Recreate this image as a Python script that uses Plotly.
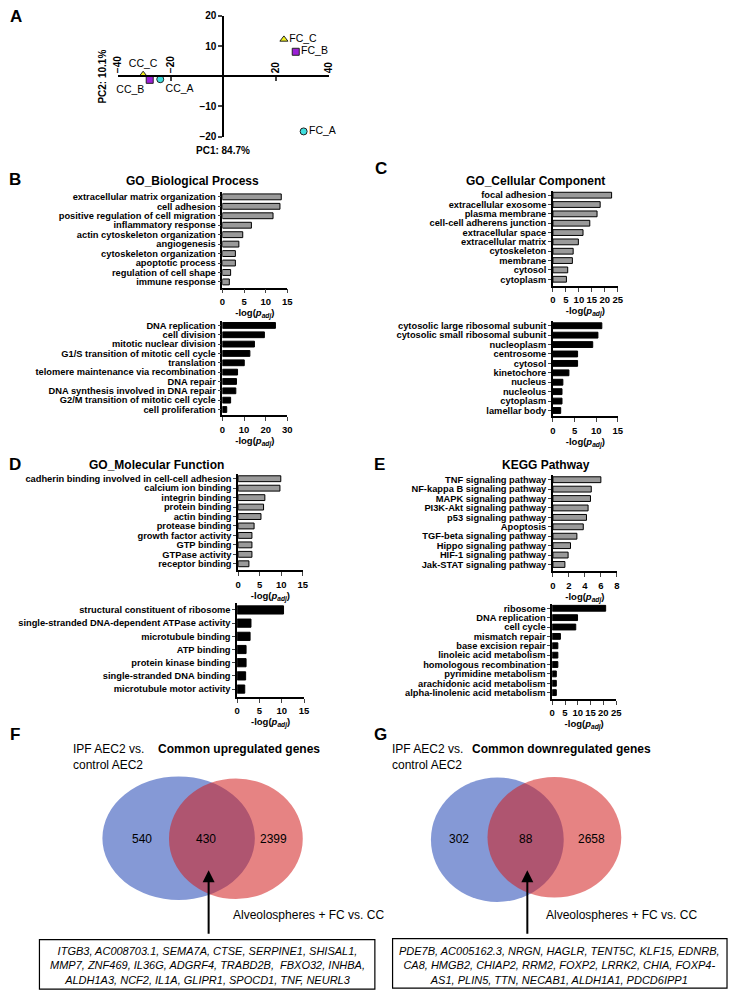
import plotly.graph_objects as go

W, H = 734, 998
FONT = "Liberation Sans, Arial, sans-serif"


def fx(px):
    return px / W


def fy(py):
    return 1 - py / H


# ---- A: PCA ----
samples = ["CC_A", "CC_B", "CC_C", "FC_A", "FC_B", "FC_C"]
pc1 = [-24, -28, -30.5, 30.5, 27.5, 23]
pc2 = [-1, -1.2, 0.5, -18.3, 8.1, 12.2]
pc1_label = "PC1: 84.7%"
pc2_label = "PC2: 10.1%"

# ---- B: GO Biological Process ----
bp_up_terms = ["extracellular matrix organization", "cell adhesion",
               "positive regulation of cell migration", "inflammatory response",
               "actin cytoskeleton organization", "angiogenesis",
               "cytoskeleton organization", "apoptotic process",
               "regulation of cell shape", "immune response"]
bp_up_vals = [13.6, 13.3, 11.7, 6.7, 4.7, 3.8, 3.0, 3.0, 1.9, 1.6]
bp_down_terms = ["DNA replication", "cell division", "mitotic nuclear division",
                 "G1/S transition of mitotic cell cycle", "translation",
                 "telomere maintenance via recombination", "DNA repair",
                 "DNA synthesis involved in DNA repair",
                 "G2/M transition of mitotic cell cycle", "cell proliferation"]
bp_down_vals = [24.5, 19.4, 14.8, 12.7, 10.1, 7.0, 6.5, 6.2, 3.8, 2.0]

# ---- C: GO Cellular Component ----
cc_up_terms = ["focal adhesion", "extracellular exosome", "plasma membrane",
               "cell-cell adherens junction", "extracellular space",
               "extracellular matrix", "cytoskeleton", "membrane", "cytosol",
               "cytoplasm"]
cc_up_vals = [22.6, 18.2, 17.0, 14.2, 11.6, 9.8, 7.8, 7.5, 5.7, 5.2]
cc_down_terms = ["cytosolic large ribosomal subunit",
                 "cytosolic small ribosomal subunit", "nucleoplasm", "centrosome",
                 "cytosol", "kinetochore", "nucleus", "nucleolus", "cytoplasm",
                 "lamellar body"]
cc_down_vals = [11.3, 10.4, 9.2, 5.7, 5.7, 3.7, 2.3, 2.1, 2.1, 1.8]

# ---- D: GO Molecular Function ----
mf_up_terms = ["cadherin binding involved in cell-cell adhesion",
               "calcium ion binding", "integrin binding", "protein binding",
               "actin binding", "protease binding", "growth factor activity",
               "GTP binding", "GTPase activity", "receptor binding"]
mf_up_vals = [9.9, 9.7, 6.2, 5.9, 5.3, 3.7, 3.2, 3.2, 3.2, 2.5]
mf_down_terms = ["structural constituent of ribosome",
                 "single-stranded DNA-dependent ATPase activity",
                 "microtubule binding", "ATP binding", "protein kinase binding",
                 "single-stranded DNA binding", "microtubule motor activity"]
mf_down_vals = [10.4, 3.1, 2.9, 2.0, 2.0, 1.9, 1.7]

# ---- E: KEGG ----
kegg_up_terms = ["TNF signaling pathway", "NF-kappa B signaling pathway",
                 "MAPK signaling pathway", "PI3K-Akt signaling pathway",
                 "p53 signaling pathway", "Apoptosis",
                 "TGF-beta signaling pathway", "Hippo signaling pathway",
                 "HIF-1 signaling pathway", "Jak-STAT signaling pathway"]
kegg_up_vals = [6.0, 4.8, 4.7, 4.4, 4.2, 3.8, 3.0, 2.2, 1.9, 1.5]
kegg_down_terms = ["ribosome", "DNA replication", "cell cycle", "mismatch repair",
                   "base excision repair", "linoleic acid metabolism",
                   "homologous recombination", "pyrimidine metabolism",
                   "arachidonic acid metabolism", "alpha-linolenic acid metabolism"]
kegg_down_vals = [20.9, 9.9, 9.2, 3.2, 2.2, 2.2, 2.2, 1.6, 1.6, 1.6]

# ---- F/G: Venn ----
up_counts = [540, 430, 2399]
down_counts = [302, 88, 2658]
up_genes = ["ITGB3, AC008703.1, SEMA7A, CTSE, SERPINE1, SHISAL1,",
            "MMP7, ZNF469, IL36G, ADGRF4, TRABD2B,  FBXO32, INHBA,",
            "ALDH1A3, NCF2, IL1A, GLIPR1, SPOCD1, TNF, NEURL3"]
down_genes = ["PDE7B, AC005162.3, NRGN, HAGLR, TENT5C, KLF15, EDNRB,",
              "CA8, HMGB2, CHIAP2, RRM2, FOXP2, LRRK2, CHIA, FOXP4-",
              "AS1, PLIN5, TTN, NECAB1, ALDH1A1, PDCD6IPP1"]

GRAY = "#9a9a9a"
XTITLE = "-log(<i>p</i><sub><i>adj</i></sub>)"

fig = go.Figure()
layout = dict(width=W, height=H, margin=dict(l=0, r=0, t=0, b=0),
              paper_bgcolor="white", plot_bgcolor="white",
              font=dict(family=FONT, color="black"), showlegend=False)
annotations = []
shapes = []


def note(x, y, text, **kw):
    d = dict(x=fx(x), y=fy(y), xref="paper", yref="paper", text=text,
             showarrow=False, xanchor="center", yanchor="middle")
    d.update(kw)
    annotations.append(d)


# PCA
sym = {"A": "circle", "B": "square", "C": "triangle-up"}
col = {"A": "#3fdede", "B": "#9b1fd6", "C": "#f2f21a"}
tpos = {"CC_A": "bottom right", "CC_B": "bottom left", "CC_C": "top center",
        "FC_A": "middle right", "FC_B": "middle right", "FC_C": "middle right"}
fig.add_trace(go.Scatter(
    x=pc1, y=pc2, mode="markers+text", text=samples,
    textposition=[tpos[s] for s in samples],
    textfont=dict(size=10.5, family=FONT),
    marker=dict(symbol=[sym[s[-1]] for s in samples],
                color=[col[s[-1]] for s in samples], size=7,
                line=dict(color="#222", width=1)),
    xaxis="x", yaxis="y", cliponaxis=False))
layout["xaxis"] = dict(domain=[fx(114), fx(328)], range=[-40, 40], anchor="free",
                       position=fy(72), side="top", tickvals=[-40, -20, 20, 40],
                       tickangle=-90, ticks="inside", ticklen=4, tickwidth=1.5,
                       showline=True, linewidth=2, linecolor="black",
                       showgrid=False, zeroline=True, zerolinewidth=2,
                       zerolinecolor="black",
                       tickfont=dict(size=10, weight="bold"))
layout["yaxis"] = dict(domain=[fy(133), fy(11)], range=[-20, 20], anchor="free",
                       position=fx(221), tickvals=[-20, -10, 10, 20],
                       ticks="outside", ticklen=4, tickwidth=1.5,
                       showline=True, linewidth=2, linecolor="black",
                       showgrid=False, zeroline=True, zerolinewidth=2,
                       zerolinecolor="black",
                       tickfont=dict(size=10, weight="bold"))
note(98, 72, pc2_label, textangle=-90, font=dict(size=10, weight="bold"))
note(221, 147, pc1_label, font=dict(size=10, weight="bold"))


def bar_panel(i, terms, vals, color, x0, x1, xmax, dtick, first, last, axis_y):
    n = len(terms)
    s = (last - first) / (n - 1)
    top = first - 0.5 * s
    k = (axis_y - last) / s
    xa, ya = "x%d" % i, "y%d" % i
    fig.add_trace(go.Bar(x=vals, y=list(range(n)), orientation="h",
                         marker=dict(color=color, line=dict(color="black", width=1)),
                         width=0.62, xaxis=xa, yaxis=ya))
    layout["xaxis%d" % i] = dict(
        domain=[fx(x0), fx(x1)], range=[0, xmax], dtick=dtick, tick0=0,
        anchor=ya, ticks="outside", ticklen=4, tickwidth=1.2, tickangle=0,
        showline=True, linewidth=1.5, linecolor="black", showgrid=False,
        zeroline=False, tickfont=dict(size=9.5, weight="bold"),
        title=dict(text=XTITLE, font=dict(size=9.5, weight="bold"), standoff=2))
    layout["yaxis%d" % i] = dict(
        domain=[fy(axis_y), fy(top)], range=[n - 1 + k, -0.5], anchor=xa,
        tickvals=list(range(n)), ticktext=terms, ticks="outside", ticklen=3,
        tickwidth=1.2, showline=True, linewidth=1.5, linecolor="black",
        showgrid=False, zeroline=False, tickfont=dict(size=9.3, weight="bold"))


bar_panel(2, bp_up_terms, bp_up_vals, GRAY, 220, 286, 15, 5, 194, 280, 285.7)
bar_panel(3, bp_down_terms, bp_down_vals, "black", 220, 286, 30, 10, 324, 409, 415)
bar_panel(4, cc_up_terms, cc_up_vals, GRAY, 556, 622, 25, 5, 192.3, 277.3, 284)
bar_panel(5, cc_down_terms, cc_down_vals, "black", 556, 622, 15, 5, 324.3, 410, 416)
bar_panel(6, mf_up_terms, mf_up_vals, GRAY, 236, 301.7, 15, 5, 479, 565, 571.7)
bar_panel(7, mf_down_terms, mf_down_vals, "black", 235, 303, 15, 5, 611.7, 691.7, 700)
bar_panel(8, kegg_up_terms, kegg_up_vals, GRAY, 556, 621, 8, 2, 480, 565.7, 572.7)
bar_panel(9, kegg_down_terms, kegg_down_vals, "black", 555.3, 620.3, 25, 5, 610, 695.3, 701.7)

# panel letters and titles
for letter, x, y in [("A", 10, 12), ("B", 9, 176), ("C", 381, 165), ("D", 9, 465),
                     ("E", 380, 465), ("F", 9, 738), ("G", 381, 738)]:
    note(x, y, letter, font=dict(size=17, weight="bold"))
for title, x, y in [("GO_Biological Process", 190, 178),
                    ("GO_Cellular Component", 538, 178),
                    ("GO_Molecular Function", 153, 465),
                    ("KEGG Pathway", 549, 465)]:
    note(x, y, title, font=dict(size=12, weight="bold"))


def venn(counts, genes, title, title_x, blue, red, num_x, arrow_x, box, left_x, alv_x):
    bcx, bcy, brx, bry = blue
    rcx, rcy, rrx, rry = red
    shapes.append(dict(type="circle", xref="paper", yref="paper",
                       x0=fx(bcx - brx), x1=fx(bcx + brx),
                       y0=fy(bcy + bry), y1=fy(bcy - bry),
                       fillcolor="rgba(52,85,187,0.6)", line=dict(width=0)))
    shapes.append(dict(type="circle", xref="paper", yref="paper",
                       x0=fx(rcx - rrx), x1=fx(rcx + rrx),
                       y0=fy(rcy + rry), y1=fy(rcy - rry),
                       fillcolor="rgba(210,30,30,0.55)", line=dict(width=0)))
    for c, xx in zip(counts, num_x):
        note(xx, 843, str(c), font=dict(size=12))
    annotations.append(dict(x=fx(arrow_x), y=fy(875), xref="paper", yref="paper",
                            ax=0, ay=65, text="", showarrow=True, arrowhead=2,
                            arrowsize=1.2, arrowwidth=2, arrowcolor="black",
                            standoff=0))
    note(left_x, 760, "IPF AEC2 vs.<br>control AEC2", xanchor="left", align="left",
         font=dict(size=12))
    note(title_x, 752, title, font=dict(size=12, weight="bold"))
    note(alv_x, 920, "Alveolospheres + FC vs. CC", xanchor="left",
         font=dict(size=12))
    bx0, bx1, by0, by1 = box
    shapes.append(dict(type="rect", xref="paper", yref="paper",
                       x0=fx(bx0), x1=fx(bx1), y0=fy(by1), y1=fy(by0),
                       line=dict(color="black", width=1.2)))
    note((bx0 + bx1) / 2, 971, "<br>".join(genes), align="center",
         font=dict(size=11, style="italic"))


venn(up_counts, up_genes, "Common upregulated genes", 237,
     (175.5, 842.5, 77.5, 62.5), (233.7, 843, 68, 61), [138, 203, 272], 206,
     (34, 375, 945, 995), 66, 229)
venn(down_counts, down_genes, "Common downregulated genes", 565,
     (499.5, 844, 67.5, 63), (557.5, 841.5, 68, 61), [461, 529, 595], 530,
     (393, 733, 944, 994), 390, 547)

layout["annotations"] = annotations
layout["shapes"] = shapes
fig.update_layout(**layout)
fig.write_html("out.html", config={"displayModeBar": False},
               post_script="document.body.style.margin='0';")
